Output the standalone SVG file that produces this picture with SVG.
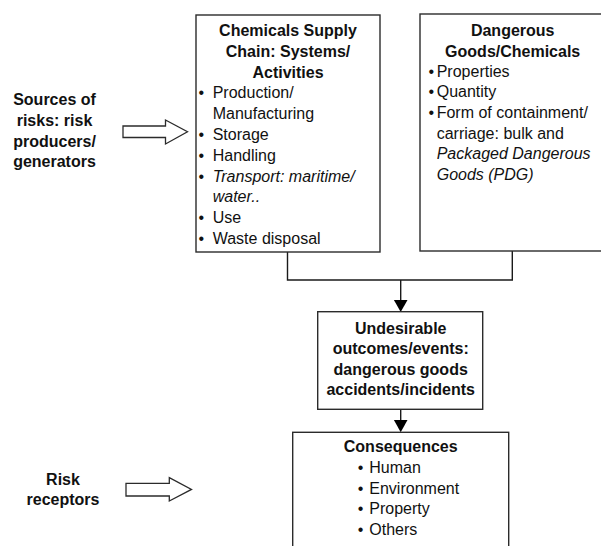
<svg xmlns="http://www.w3.org/2000/svg" width="601" height="546" viewBox="0 0 601 546">
<defs>
<style>
.box{fill:#fff;stroke:#2b2b2b;stroke-width:1.4}
.line{fill:none;stroke:#1a1a1a;stroke-width:1.4}
.head{fill:#000}
.blk{fill:#fff;stroke:#2b2b2b;stroke-width:1.3;stroke-linejoin:miter}
text{font-family:"Liberation Sans",Arial,sans-serif;font-size:16px;fill:#111}
.b{font-weight:bold}
.c{text-anchor:middle}
.i{font-style:italic}
</style>
</defs>
<rect width="601" height="546" fill="#fff"/>
<g id="connectors">
<path class="line" d="M287.5,252 V280 H512.3 V251"/>
<path class="line" d="M400.7,280 V301"/>
<path class="head" d="M393.9,300 L407.5,300 L400.7,312 Z"/>
<path class="line" d="M400.7,409.3 V421"/>
<path class="head" d="M393.9,420 L407.5,420 L400.7,432.3 Z"/>
</g>
<g id="sources">
<text class="b c" x="54.5" y="105">Sources of</text>
<text class="b c" x="54.5" y="125.8">risks: risk</text>
<text class="b c" x="54.5" y="146.6">producers/</text>
<text class="b c" x="54.5" y="167.4">generators</text>
<path class="blk" d="M123,126 H165.5 V120 L187.5,131.8 L165.5,144 V137.5 H123 Z"/>
</g>
<g id="supply-chain">
<rect class="box" x="196" y="15" width="184" height="237"/>
<text class="b c" x="288" y="36">Chemicals Supply</text>
<text class="b c" x="288" y="56.8">Chain: Systems/</text>
<text class="b c" x="288" y="77.6">Activities</text>
<text x="198.5" y="98.4">•</text><text x="212.7" y="98.4">Production/</text>
<text x="212.7" y="119.2">Manufacturing</text>
<text x="198.5" y="140">•</text><text x="212.7" y="140">Storage</text>
<text x="198.5" y="160.8">•</text><text x="212.7" y="160.8">Handling</text>
<text x="198.5" y="181.6">•</text><text class="i" x="212.7" y="181.6">Transport: maritime/</text>
<text class="i" x="212.7" y="202.4">water..</text>
<text x="198.5" y="223.2">•</text><text x="212.7" y="223.2">Use</text>
<text x="198.5" y="244">•</text><text x="212.7" y="244">Waste disposal</text>
</g>
<g id="dangerous-goods">
<rect class="box" x="420" y="14" width="190" height="237"/>
<text class="b c" x="512.7" y="36">Dangerous</text>
<text class="b c" x="512.7" y="56.8">Goods/Chemicals</text>
<text x="428.5" y="76.8">•</text><text x="436.7" y="76.8">Properties</text>
<text x="428.5" y="97.4">•</text><text x="436.7" y="97.4">Quantity</text>
<text x="428.5" y="118">•</text><text x="436.7" y="118">Form of containment/</text>
<text x="436.7" y="138.7">carriage: bulk and</text>
<text class="i" x="436.7" y="159.4">Packaged Dangerous</text>
<text class="i" x="436.7" y="180.1">Goods (PDG)</text>
</g>
<g id="undesirable-outcomes">
<rect class="box" x="317.7" y="311.7" width="165" height="97.6"/>
<text class="b c" x="400.7" y="333.5">Undesirable</text>
<text class="b c" x="400.7" y="354.2">outcomes/events:</text>
<text class="b c" x="400.7" y="374.6">dangerous goods</text>
<text class="b c" x="400.7" y="395">accidents/incidents</text>
</g>
<g id="receptors">
<text class="b c" x="63" y="484.8">Risk</text>
<text class="b c" x="63" y="505.4">receptors</text>
<path class="blk" d="M126,483.3 H169.3 V477.7 L191.5,489.4 L169.3,501 V496 H126 Z"/>
</g>
<g id="consequences">
<rect class="box" x="292.7" y="432.3" width="216" height="130"/>
<text class="b c" x="400.7" y="451.7">Consequences</text>
<text x="357.7" y="473.3">•</text><text x="369.3" y="473.3">Human</text>
<text x="357.7" y="493.8">•</text><text x="369.3" y="493.8">Environment</text>
<text x="357.7" y="514.3">•</text><text x="369.3" y="514.3">Property</text>
<text x="357.7" y="534.8">•</text><text x="369.3" y="534.8">Others</text>
</g>
</svg>
